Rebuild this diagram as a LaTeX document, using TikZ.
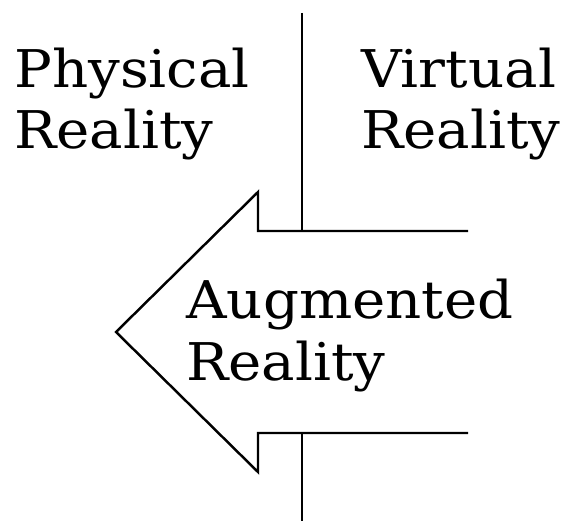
\documentclass[tikz,border=0pt]{standalone}
\usepackage{fontspec}
\setmainfont[FakeStretch=1.08]{DejaVu Serif}
\usetikzlibrary{positioning}
\tikzset{
  etiqueta/.style={anchor=base west, inner sep=0pt, align=left,
    font=\fontsize{29.6}{35.2}\selectfont},
  contorno/.style={line width=1.4pt, black, line join=miter},
}
\begin{document}
\begin{tikzpicture}[x=0.02cm, y=-0.02cm]
  \useasboundingbox (0,0) rectangle (563,526);
  % textos
  \node[etiqueta] (fisica) at (14,149) {Physical\\Reality};
  \node[etiqueta] (virtual) at (361,149) {Virtual\\Reality};
  \node[etiqueta] (aumentada) at (186,380) {Augmented\\Reality};
  % flecha
  \coordinate (punta) at (116,332);
  \coordinate (muescaArriba) at (258,192);
  \coordinate (muescaAbajo) at (258,472);
  \coordinate (esqArriba) at (258,231);
  \coordinate (esqAbajo) at (258,433);
  \coordinate (finArriba) at (468,231);
  \coordinate (finAbajo) at (468,433);
  \draw[contorno] (finArriba) -- (esqArriba) -- (muescaArriba) -- (punta)
    -- (muescaAbajo) -- (esqAbajo) -- (finAbajo);
  % divisoria
  \coordinate (divTope) at (302,13);
  \coordinate (divA) at (302,231);
  \coordinate (divB) at (302,433);
  \coordinate (divPie) at (302,521);
  \draw[contorno] (divTope) -- (divA);
  \draw[contorno] (divB) -- (divPie);
\end{tikzpicture}
\end{document}
